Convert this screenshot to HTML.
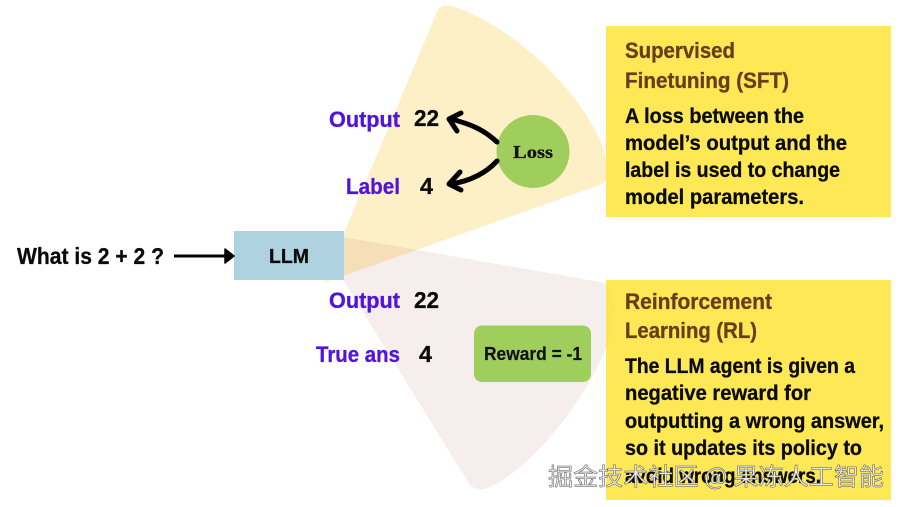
<!DOCTYPE html>
<html><head><meta charset="utf-8"><style>
html,body{margin:0;padding:0;background:#fff;width:900px;height:507px;overflow:hidden}
svg{display:block}
text{font-family:"Liberation Sans","Noto Sans CJK SC",sans-serif;font-weight:bold}
.b text{stroke-width:.3}
</style></head><body>
<svg width="900" height="507" viewBox="0 0 900 507" xmlns="http://www.w3.org/2000/svg">
<rect width="900" height="507" fill="#fff"/>
<path d="M323 283 L437 12 Q441 3 451 6 C510 24 575 85 600 140 Q609 160 606 180 Q605 183 600 185 Z" fill="#fdf0c6"/>
<path d="M343 237 L600 282 Q612 285 615 303 Q618 323 605 350 C585 400 535 465 490 487 Q475 493 468 482 L340 275 Z" fill="#f6eded" style="mix-blend-mode:multiply"/>
<rect x="606" y="26" width="285" height="191" fill="#fee53f" fill-opacity=".88"/>
<rect x="606" y="280" width="285" height="220" fill="#fee53f" fill-opacity=".88"/>
<rect x="234" y="231" width="110" height="49" fill="#aed2df"/>

<g class="b">
<text x="17" y="264" font-size="23" fill="#0b0b0b" stroke="#0b0b0b" textLength="147" lengthAdjust="spacingAndGlyphs">What is 2 + 2 ?</text>
<text x="269" y="263" font-size="20" fill="#0b0b0b" stroke="#0b0b0b" textLength="40" lengthAdjust="spacingAndGlyphs">LLM</text>
<text x="329" y="127" font-size="22" fill="#5014dc" stroke="#5014dc" textLength="71" lengthAdjust="spacingAndGlyphs">Output</text>
<text x="414" y="126" font-size="23" fill="#0b0b0b" stroke="#0b0b0b" textLength="25" lengthAdjust="spacingAndGlyphs">22</text>
<text x="346" y="194" font-size="22" fill="#5014dc" stroke="#5014dc" textLength="54" lengthAdjust="spacingAndGlyphs">Label</text>
<text x="420" y="194" font-size="23" fill="#0b0b0b" stroke="#0b0b0b" textLength="13" lengthAdjust="spacingAndGlyphs">4</text>
<text x="329" y="308" font-size="22" fill="#5014dc" stroke="#5014dc" textLength="71" lengthAdjust="spacingAndGlyphs">Output</text>
<text x="414" y="308" font-size="23" fill="#0b0b0b" stroke="#0b0b0b" textLength="25" lengthAdjust="spacingAndGlyphs">22</text>
<text x="316" y="362" font-size="22" fill="#5014dc" stroke="#5014dc" textLength="84" lengthAdjust="spacingAndGlyphs">True ans</text>
<text x="419" y="362" font-size="23" fill="#0b0b0b" stroke="#0b0b0b" textLength="13" lengthAdjust="spacingAndGlyphs">4</text>
</g>

<path d="M174 256 H226" stroke="#000" stroke-width="3" fill="none"/>
<path d="M225 249 L234 256 L225 263 Z" fill="#000" stroke="#000" stroke-width="1.5" stroke-linejoin="round"/>

<circle cx="533" cy="151.500" r="36.500" fill="#9fce5c"/>
<text x="513" y="158" font-size="18" fill="#111" stroke="#111" stroke-width=".3" style="font-family:'Liberation Serif',serif" textLength="40" lengthAdjust="spacingAndGlyphs">Loss</text>
<path d="M497 142 C483 129 470 124 451 119" stroke="#000" stroke-width="5" fill="none" stroke-linecap="round"/>
<path d="M461 113 L449 119 L457 131" stroke="#000" stroke-width="5" fill="none" stroke-linecap="round" stroke-linejoin="round"/>
<path d="M497 161 C485 174 470 181 451 184" stroke="#000" stroke-width="5" fill="none" stroke-linecap="round"/>
<path d="M460 172 L449 184 L461 190" stroke="#000" stroke-width="5" fill="none" stroke-linecap="round" stroke-linejoin="round"/>

<rect x="474" y="325.500" width="117" height="56.500" rx="8" fill="#9fce5c"/>
<text x="484" y="360" font-size="18" fill="#111" stroke="#111" stroke-width=".2" textLength="98" lengthAdjust="spacingAndGlyphs">Reward = -1</text>

<g class="b" fill="#653f1c" stroke="#653f1c" font-size="22">
<text x="625" y="58" textLength="110" lengthAdjust="spacingAndGlyphs">Supervised</text>
<text x="625" y="88" textLength="164" lengthAdjust="spacingAndGlyphs">Finetuning (SFT)</text>
<text x="625" y="309" textLength="147" lengthAdjust="spacingAndGlyphs">Reinforcement</text>
<text x="625" y="338" textLength="132" lengthAdjust="spacingAndGlyphs">Learning (RL)</text>
</g>
<g class="b" fill="#0b0b0b" stroke="#0b0b0b" font-size="21">
<text x="625" y="123" textLength="179" lengthAdjust="spacingAndGlyphs">A loss between the</text>
<text x="625" y="150" textLength="222" lengthAdjust="spacingAndGlyphs">model’s output and the</text>
<text x="625" y="177" textLength="215" lengthAdjust="spacingAndGlyphs">label is used to change</text>
<text x="625" y="204" textLength="179" lengthAdjust="spacingAndGlyphs">model parameters.</text>
<text x="625" y="373" textLength="230" lengthAdjust="spacingAndGlyphs">The LLM agent is given a</text>
<text x="625" y="400" textLength="186" lengthAdjust="spacingAndGlyphs">negative reward for</text>
<text x="625" y="428" textLength="259" lengthAdjust="spacingAndGlyphs">outputting a wrong answer,</text>
<text x="625" y="455" textLength="237" lengthAdjust="spacingAndGlyphs">so it updates its policy to</text>
<text x="625" y="483" textLength="196" lengthAdjust="spacingAndGlyphs">avoid wrong answers.</text>
</g>

<text x="548" y="485" font-size="24" fill="#ececec" stroke="#555" stroke-width=".5" style="font-weight:normal;font-family:'Noto Sans CJK SC',sans-serif" textLength="336" lengthAdjust="spacingAndGlyphs">掘金技术社区 @ 果冻人工智能</text>
</svg>
</body></html>
